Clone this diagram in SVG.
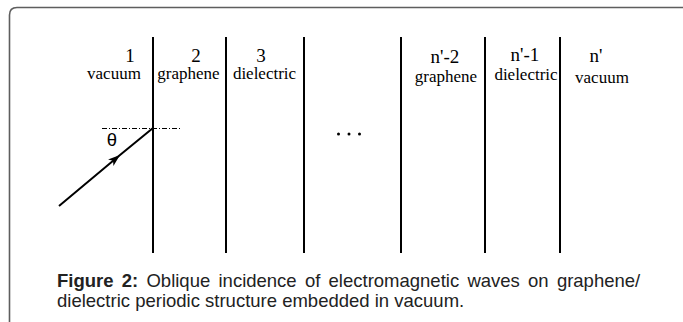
<svg xmlns="http://www.w3.org/2000/svg" width="683" height="322" viewBox="0 0 683 322">
<defs>
<style>
.num{font-family:"Liberation Serif","Times New Roman",serif;font-size:19px;fill:#000;text-anchor:middle}
.lab{font-family:"Liberation Serif","Times New Roman",serif;font-size:17px;fill:#000;text-anchor:middle}
.bnd{stroke:#000;stroke-width:2;fill:none}
.cap{font-family:"Liberation Sans",Arial,sans-serif;font-size:18.5px;fill:#222}
</style>
<marker id="ah" markerUnits="userSpaceOnUse" markerWidth="16" markerHeight="12" viewBox="-14 -6 16 12" refX="0" refY="0" orient="auto">
<path d="M0,0 L-12,-4.2 L-9,0 L-12,4.2 Z" fill="#000"/>
</marker>
</defs>
<rect width="683" height="322" fill="#fff"/>
<g id="frame">
<path d="M9.5,330 L9.5,15 Q9.5,7.5 17,7.5 L690,7.5" fill="none" stroke="#5e5e5e" stroke-width="1.6"/>
</g>
<g id="boundaries">
<line class="bnd" x1="153" y1="37" x2="153" y2="253"/>
<line class="bnd" x1="226" y1="37" x2="226" y2="253"/>
<line class="bnd" x1="304" y1="37" x2="304" y2="253"/>
<line class="bnd" x1="401" y1="37" x2="401" y2="253"/>
<line class="bnd" x1="485" y1="37" x2="485" y2="253"/>
<line class="bnd" x1="560" y1="37" x2="560" y2="253"/>
</g>
<g id="layer1"><text class="num" x="130" y="62">1</text><text class="lab" x="114" y="79">vacuum</text></g>
<g id="layer2"><text class="num" x="196" y="62">2</text><text class="lab" x="188.5" y="79">graphene</text></g>
<g id="layer3"><text class="num" x="261" y="62">3</text><text class="lab" x="264.5" y="79">dielectric</text></g>
<g id="layer-n2"><text class="num" x="445" y="63">n'-2</text><text class="lab" x="446" y="82">graphene</text></g>
<g id="layer-n1"><text class="num" x="525" y="61">n'-1</text><text class="lab" x="526" y="80">dielectric</text></g>
<g id="layer-n"><text class="num" x="596" y="62">n'</text><text class="lab" x="602" y="83">vacuum</text></g>
<g id="ellipsis">
<circle cx="338.5" cy="134" r="1.5" fill="#000"/>
<circle cx="349" cy="134" r="1.5" fill="#000"/>
<circle cx="359.5" cy="134" r="1.5" fill="#000"/>
</g>
<g id="connectors">
<line x1="102" y1="128.5" x2="180" y2="128.5" stroke="#000" stroke-width="1" stroke-dasharray="5,2,1,2"/>
<path d="M59,206 L120,155 L153,128" fill="none" stroke="#000" stroke-width="2" marker-mid="url(#ah)"/>
</g>
<g id="angle"><text x="112" y="145.5" font-family="'Liberation Sans',Arial,sans-serif" font-size="18.5" text-anchor="middle" fill="#000">θ</text></g>
<g id="caption">
<text class="cap" x="57" y="287" word-spacing="3.1"><tspan font-weight="bold">Figure 2:</tspan> Oblique incidence of electromagnetic waves on graphene/</text>
<text class="cap" x="57" y="307">dielectric periodic structure embedded in vacuum.</text>
</g>
</svg>
